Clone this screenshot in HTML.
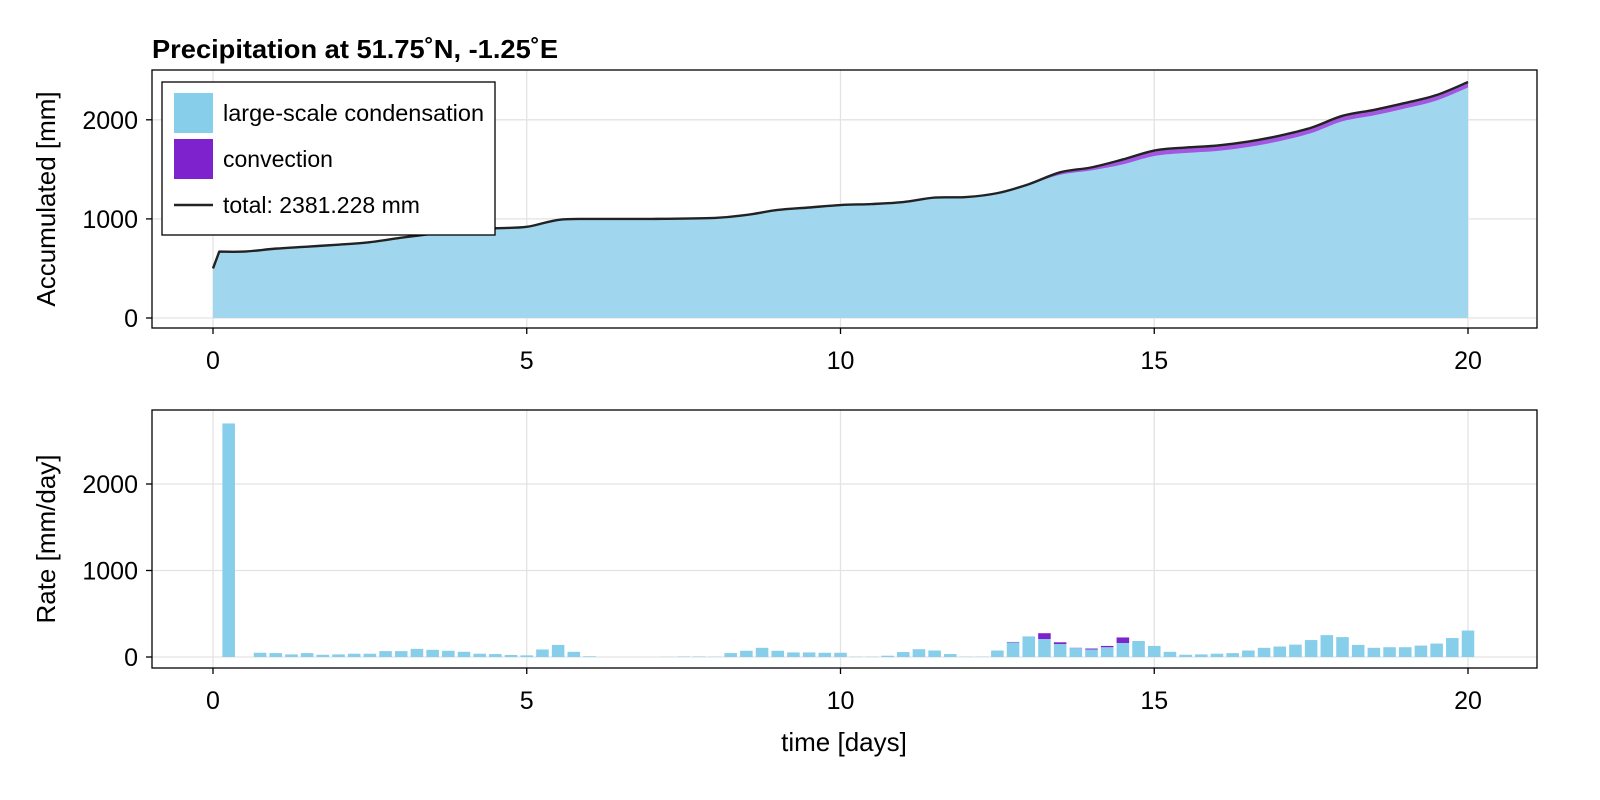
<!DOCTYPE html>
<html><head><meta charset="utf-8"><style>
body{margin:0;background:#fff}
svg{display:block;font-family:"Liberation Sans",sans-serif}
</style></head><body>
<svg id="c" width="1600" height="800" viewBox="0 0 1600 800"></svg>
<script>
// Accumulated (top panel)
const accDays=[0,0.1,0.5,1,1.5,2,2.5,3,3.5,4,4.5,5,5.5,6,7,8,8.5,9,9.5,10,10.5,11,11.5,12,12.5,13,13.5,14,14.5,15,15.5,16,16.5,17,17.5,18,18.5,19,19.5,20];
const accTotal=[500,670,670,700,720,740,765,810,850,880,905,920,990,1000,1000,1010,1040,1090,1115,1140,1150,1170,1215,1220,1260,1350,1470,1520,1600,1690,1720,1740,1780,1840,1920,2040,2100,2170,2250,2381];
const accConv=[0,0,0,0,0,0,0,0,0,0,0,0,0,0,0,0,0,0,0,0,0,0,0,0,0,5,25,30,50,55,55,55,55,55,55,55,55,55,55,55];
// Rate (bottom panel), bars every 0.25 day starting at 0.25
const rateLsc=[2700,0,49,45,30,45,26,30,38,38,68,68,94,83,72,60,38,34,23,19,87,140,60,8,0,0,0,0,2,5,5,3,45,72,106,72,53,53,49,49,3,3,15,57,90,75,34,3,3,75,169,238,208,150,103,87,113,162,185,128,60,26,30,38,45,75,106,121,143,196,253,230,140,106,113,113,132,155,219,306];
const rateConv=[0,0,0,0,0,0,0,0,0,0,0,0,0,0,0,0,0,0,0,0,0,0,0,0,0,0,0,0,0,0,0,0,0,0,0,0,0,0,0,0,0,0,0,0,0,0,0,0,0,0,5,0,67,20,3,11,15,64,0,0,0,0,0,0,0,0,0,0,0,0,0,0,0,0,0,0,0,0,0,0];
const xTicks=[0,5,10,15,20];
const yTicksTop=[0,1000,2000];
const yTicksBot=[0,1000,2000];

const NS="http://www.w3.org/2000/svg";
const svg=document.getElementById('c');
function mk(t,a,txt){const e=document.createElementNS(NS,t);for(const k in a)e.setAttribute(k,a[k]);if(txt!==undefined)e.textContent=txt;svg.appendChild(e);return e;}
const X=d=>213+d*62.75;
const Yt=v=>318-v*0.0991;
const Yb=v=>657-v*0.0865;
const L=152,R=1537;

function smooth(pts){
  let s='';
  for(let i=0;i<pts.length-1;i++){
    const p0=pts[Math.max(0,i-1)],p1=pts[i],p2=pts[i+1],p3=pts[Math.min(pts.length-1,i+2)];
    const t=(i<=1)?0:1/6;
    const c1=[p1[0]+(p2[0]-p0[0])*t,p1[1]+(p2[1]-p0[1])*t];
    const t2=(i===0)?0:1/6;
    const c2=[p2[0]-(p3[0]-p1[0])*t2,p2[1]-(p3[1]-p1[1])*t2];
    s+=' C'+c1[0]+','+c1[1]+' '+c2[0]+','+c2[1]+' '+p2[0]+','+p2[1];
  }
  return s;
}

// grids
for(const t of xTicks){
  let g=mk('line',{x1:X(t),x2:X(t),y1:70,y2:328,stroke:'#e3e3e3','stroke-width':1.3});
  
  g=mk('line',{x1:X(t),x2:X(t),y1:410,y2:668,stroke:'#e3e3e3','stroke-width':1.3});
  
}
for(const t of yTicksTop){
  const g=mk('line',{x1:L,x2:R,y1:Yt(t),y2:Yt(t),stroke:'#e3e3e3','stroke-width':1.3});
  
}
for(const t of yTicksBot){
  const g=mk('line',{x1:L,x2:R,y1:Yb(t),y2:Yb(t),stroke:'#e3e3e3','stroke-width':1.3});
  
}

// top area
const totPts=accDays.map((d,i)=>[X(d),Yt(accTotal[i])]);
const lscPts=accDays.map((d,i)=>[X(d),Yt(accTotal[i]-accConv[i])]);
let a2=mk('path',{d:'M'+X(0)+','+Yt(0)+' L'+totPts[0]+smooth(totPts)+' L'+X(20)+','+Yt(0)+' Z',fill:'#a356e0'});

let a1=mk('path',{d:'M'+X(0)+','+Yt(0)+' L'+lscPts[0]+smooth(lscPts)+' L'+X(20)+','+Yt(0)+' Z',fill:'#a1d7ee'});

let ln=mk('path',{d:'M'+totPts[0]+smooth(totPts),fill:'none',stroke:'#222','stroke-width':2.4,'stroke-linejoin':'round'});


// bottom bars
const bw=0.2*62.75;
rateLsc.forEach((v,i)=>{
  const d=(i+1)*0.25;
  if(v>0){const b=mk('rect',{x:X(d)-bw/2,y:Yb(v),width:bw,height:Yb(0)-Yb(v),fill:'#87ceeb'});
  }
  const c=rateConv[i];
  if(c>0){const b=mk('rect',{x:X(d)-bw/2,y:Yb(v+c),width:bw,height:Yb(v)-Yb(v+c),fill:'#7e22ce'});
  }
});

// frames
let f=mk('rect',{x:L,y:70,width:R-L,height:258,fill:'none',stroke:'#000','stroke-width':1.3});

f=mk('rect',{x:L,y:410,width:R-L,height:258,fill:'none',stroke:'#000','stroke-width':1.3});


// ticks
for(const t of xTicks){
  for(const [yb,yl] of [[328,369],[668,709]]){
    const tk=mk('line',{x1:X(t),x2:X(t),y1:yb,y2:yb+6,stroke:'#000','stroke-width':1.3});
    
    const tl=mk('text',{x:X(t),y:yl,'text-anchor':'middle','font-size':25},t);
    
  }
}
for(const t of yTicksTop){
  const tk=mk('line',{x1:L-6,x2:L,y1:Yt(t),y2:Yt(t),stroke:'#000','stroke-width':1.3});
  
  const tl=mk('text',{x:L-14,y:Yt(t)+9,'text-anchor':'end','font-size':25},t);
  
}
for(const t of yTicksBot){
  const tk=mk('line',{x1:L-6,x2:L,y1:Yb(t),y2:Yb(t),stroke:'#000','stroke-width':1.3});
  
  const tl=mk('text',{x:L-14,y:Yb(t)+9,'text-anchor':'end','font-size':25},t);
  
}

// titles
let tt=mk('text',{x:152,y:58,'font-size':26,'font-weight':'bold',textLength:406,lengthAdjust:'spacingAndGlyphs'},'Precipitation at 51.75˚N, -1.25˚E');

tt=mk('text',{x:0,y:0,'font-size':26,'text-anchor':'middle',transform:'translate(55,199) rotate(-90)'},'Accumulated [mm]');

tt=mk('text',{x:0,y:0,'font-size':26,'text-anchor':'middle',transform:'translate(55,539) rotate(-90)'},'Rate [mm/day]');

tt=mk('text',{x:844,y:751,'font-size':26,'text-anchor':'middle'},'time [days]');


// legend
let lg=mk('rect',{x:162,y:82,width:333,height:153,fill:'#fff',stroke:'#000','stroke-width':1.3});

let s=mk('rect',{x:174,y:93,width:39,height:40,fill:'#87ceeb'});

s=mk('text',{x:223,y:121,'font-size':23,textLength:261,lengthAdjust:'spacingAndGlyphs'},'large-scale condensation');

s=mk('rect',{x:174,y:139,width:39,height:40,fill:'#7e22ce'});

s=mk('text',{x:223,y:167,'font-size':23},'convection');

s=mk('line',{x1:174,x2:213,y1:205,y2:205,stroke:'#222','stroke-width':2.4});

s=mk('text',{x:223,y:213,'font-size':23},'total: 2381.228 mm');

</script>
</body></html>
